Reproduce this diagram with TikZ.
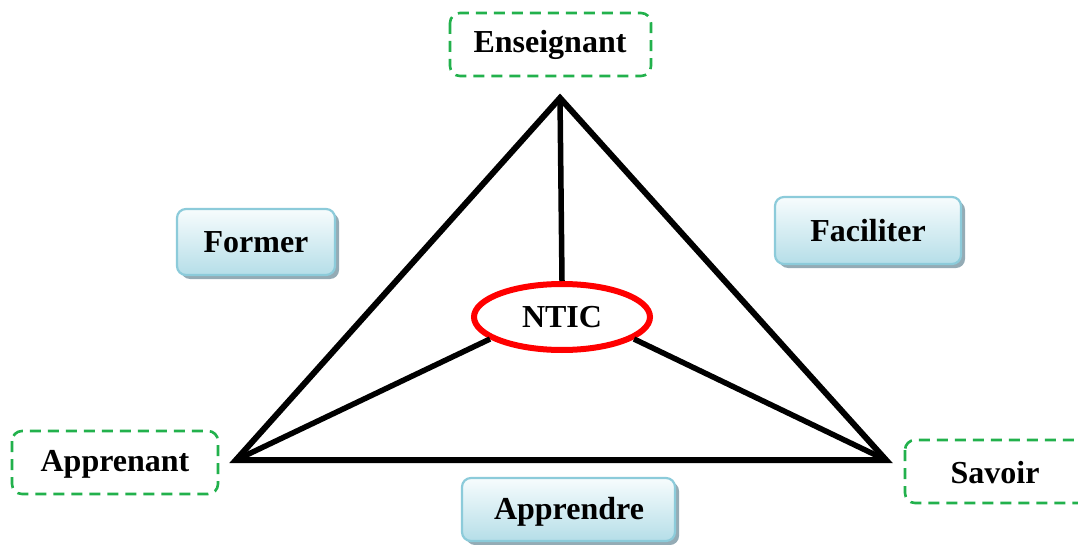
\documentclass[tikz,border=0pt]{standalone}
\usepackage{fontspec}
\setmainfont{Liberation Serif}
\usetikzlibrary{shapes.geometric}
\definecolor{dgreen}{HTML}{22B14C}
\definecolor{boxtop}{HTML}{F7FCFD}
\definecolor{boxbot}{HTML}{B5DEE8}
\definecolor{boxedge}{HTML}{8CCBDA}
\definecolor{shadowc}{HTML}{94ABB5}
\tikzset{
  x=1pt, y=-1pt,
  lbl/.style={font=\fontsize{32}{36}\selectfont\bfseries, text=black},
  dashbox/.style={draw=dgreen, line width=2.6pt, dash pattern=on 11pt off 7pt, rounded corners=10pt},
  gradbox/.style={draw=boxedge, line width=2.2pt, rounded corners=9pt, top color=boxtop, bottom color=boxbot},
  shadowbox/.style={fill=shadowc, rounded corners=9pt},
  tri/.style={line width=6pt, line join=miter},
  spoke/.style={line width=5.5pt},
}
\begin{document}
\begin{tikzpicture}
\useasboundingbox (0,0) rectangle (1078,545);
% dashed boxes
\draw[dashbox] (450,13) rectangle (651,76);
\node[lbl] (ens) at (550,45) {Enseignant};
\draw[dashbox] (12,431) rectangle (218,494);
\node[lbl] (app) at (115,464) {Apprenant};
\draw[dashbox] (905,440) rectangle (1100,503);
\node[lbl] (sav) at (995,473) {Savoir};
% gradient boxes with shadow
\fill[shadowbox] (181,213) rectangle (339,279);
\draw[gradbox] (177,209) rectangle (335,275);
\node[lbl] (for) at (256,242) {Former};
\fill[shadowbox] (779,201) rectangle (965,268);
\draw[gradbox] (775,197) rectangle (961,264);
\node[lbl] (fac) at (868,231) {Faciliter};
\fill[shadowbox] (466,482) rectangle (679,545);
\draw[gradbox] (462,478) rectangle (675,541);
\node[lbl] (apr) at (569,512) {Apprendre};
% triangle
\coordinate (A) at (560,98);
\coordinate (L) at (236,460);
\coordinate (R) at (886,460);
\draw[tri] (A) -- (L) -- (R) -- cycle;
% NTIC ellipse
\node[ellipse, draw=red, line width=6pt, minimum width=176pt, minimum height=66pt, fill=white, lbl] (ntic) at (562,317) {NTIC};
\draw[spoke] (A) -- (ntic.north);
\draw[spoke] (L) -- (ntic.-163);
\draw[spoke] (R) -- (ntic.-17);
\end{tikzpicture}
\end{document}
